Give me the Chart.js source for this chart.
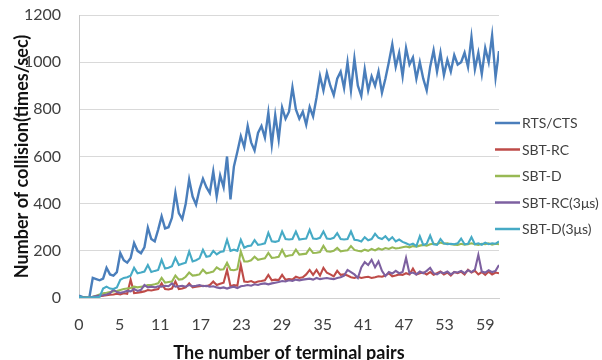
<!DOCTYPE html>
<html>
<head>
<meta charset="utf-8">
<script src="https://cdn.jsdelivr.net/npm/chart.js@4/dist/chart.umd.min.js"></script>
<style>
  html, body { margin: 0; padding: 0; background: #ffffff; }
  #wrap { width: 602px; height: 360px; }
</style>
</head>
<body>
<div id="wrap"><canvas id="chart" width="602" height="360"></canvas></div>
<script>
// Sample spacing: two measurements per terminal-pair step
const sampleStep = 0.5;

const seriesNames = ['RTS/CTS', 'SBT-RC', 'SBT-D', 'SBT-RC(3\u03bcs)', 'SBT-D(3\u03bcs)'];

const rtsCts = [
  10, 5, 3, 2, 85, 80, 75, 82, 128, 100,
  95, 110, 190, 160, 150, 170, 233, 200, 190, 215,
  298, 250, 240, 290, 346, 295, 300, 340, 446, 360,
  335, 400, 502, 430, 396, 460, 506, 470, 445, 537,
  431, 520, 470, 600, 418, 558, 620, 686, 640, 729,
  660, 626, 700, 729, 680, 786, 650, 775, 672, 808,
  760, 790, 893, 800, 760, 790, 735, 810, 770, 850,
  942, 880, 955, 900, 860, 930, 960, 890, 1000, 880,
  1015, 900, 857, 970, 880, 940, 900, 960, 870, 930,
  1000, 1076, 980, 1040, 940, 1060, 990, 1020, 930, 1000,
  930, 880, 980, 1050, 960, 1040, 945, 1010, 960, 1030,
  990, 1000, 1040, 980, 1106, 970, 1040, 950, 1060, 1000,
  1113, 935, 1047
];

const sbtRc = [
  2, 2, 1, 1, 3, 5, 8, 10, 12, 14,
  15, 18, 15, 20, 18, 77, 21, 22, 25, 28,
  34, 32, 35, 38, 62, 38, 36, 40, 70, 38,
  40, 45, 62, 45, 48, 50, 52, 50, 55, 70,
  55, 60, 65, 119, 50, 55, 52, 140, 70, 68,
  72, 65, 70, 72, 75, 98, 75, 78, 76, 98,
  77, 80, 78, 90, 85, 88, 100, 119, 98, 119,
  95, 128, 107, 100, 92, 115, 98, 100, 95, 88,
  85, 90, 85, 88, 90, 85, 88, 92, 90, 95,
  105, 92, 95, 100, 98, 105, 100, 125, 100, 105,
  108, 100, 110, 98, 105, 112, 100, 108, 95, 110,
  105, 112, 100, 120, 108, 115, 100, 110, 98, 112,
  100, 108, 105
];

const sbtD = [
  3, 2, 2, 2, 5, 10, 15, 20, 22, 25,
  28, 30, 34, 38, 40, 42, 48, 45, 48, 50,
  55, 55, 58, 62, 85, 65, 68, 70, 95, 78,
  80, 90, 108, 95, 97, 100, 120, 105, 108, 112,
  130, 120, 122, 149, 120, 118, 122, 197, 155, 155,
  160, 175, 162, 165, 168, 191, 170, 172, 175, 204,
  176, 180, 182, 205, 184, 186, 188, 210, 191, 192,
  195, 221, 198, 196, 200, 212, 198, 200, 202, 220,
  204, 200, 198, 205, 200, 208, 202, 210, 205, 212,
  208, 215, 210, 212, 215, 218, 215, 220, 218, 222,
  225, 222, 228, 230, 228, 235, 230, 232, 228, 226,
  225, 230, 226, 228, 232, 228, 225, 230, 228, 232,
  226, 230, 228
];

const sbtRc3 = [
  3, 2, 1, 1, 5, 8, 10, 12, 15, 20,
  35, 25, 22, 25, 30, 28, 38, 30, 35, 55,
  45, 48, 45, 50, 48, 52, 50, 62, 48, 50,
  52, 48, 55, 50, 52, 55, 50, 52, 48, 50,
  45, 42, 45, 40, 45, 48, 42, 50, 52, 55,
  52, 58, 55, 60, 62, 58, 62, 65, 68, 72,
  70, 75, 72, 78, 75, 78, 80, 82, 78, 85,
  80, 83, 85, 82, 80, 85, 88, 95, 119, 110,
  100, 85, 130, 152, 140, 162, 130, 155, 115, 93,
  110, 104, 115, 105, 110, 170, 104, 108, 100, 112,
  105, 115, 128, 105, 100, 110, 105, 112, 100, 110,
  108, 115, 105, 118, 110, 120, 183, 112, 108, 118,
  110, 115, 140
];

const sbtD3 = [
  5, 3, 2, 2, 3, 3, 5, 40, 48, 40,
  38, 45, 77, 85, 88, 95, 128, 105, 108, 112,
  140, 110, 115, 119, 162, 125, 128, 135, 170, 140,
  145, 150, 197, 155, 160, 168, 204, 175, 178, 200,
  185, 195, 198, 247, 200, 205, 200, 247, 213, 220,
  222, 245, 225, 228, 232, 276, 240, 238, 242, 282,
  250, 248, 250, 282, 248, 250, 252, 289, 252, 250,
  255, 282, 252, 250, 255, 275, 250, 248, 250, 282,
  247, 245, 240, 258, 245, 250, 272, 255, 250, 262,
  245, 258, 240, 248, 238, 232, 225, 230, 220, 262,
  225, 230, 265, 228, 225, 250, 232, 228, 230, 228,
  232, 252, 228, 230, 258, 228, 232, 226, 235, 228,
  232, 230, 240
];

// Category axis labels, shown every 5.9 steps
const tickLabels = [0, 5, 11, 17, 23, 29, 35, 41, 47, 53, 59];
const tickStep = 5.9;

const seriesValues = [rtsCts, sbtRc, sbtD, sbtRc3, sbtD3];
const seriesColors = ['#4A7EBB', '#BE4B48', '#98B954', '#7D60A0', '#46AAC5'];
const seriesWidths = [2.4, 2.1, 2.1, 2.1, 2.1];

Chart.defaults.font.family = 'Lato, "Open Sans", sans-serif';

const datasets = seriesValues.map((vals, s) => ({
  label: seriesNames[s],
  data: vals.map((v, i) => ({ x: i * sampleStep, y: v })),
  borderColor: seriesColors[s],
  backgroundColor: seriesColors[s],
  borderWidth: seriesWidths[s],
  pointRadius: 0,
  tension: 0,
  order: seriesValues.length - s
}));

// Legend drawn as a column to the right of the plot
const sideLegend = {
  id: 'sideLegend',
  afterDraw(chart, args, opts) {
    const ctx = chart.ctx;
    ctx.save();
    ctx.font = '14px Lato, "Open Sans", sans-serif';
    ctx.textBaseline = 'middle';
    ctx.textAlign = 'left';
    chart.data.datasets.forEach((ds, i) => {
      const y = opts.top + i * opts.gap;
      ctx.strokeStyle = ds.borderColor;
      ctx.lineWidth = 2.5;
      ctx.beginPath();
      ctx.moveTo(opts.left, y);
      ctx.lineTo(opts.left + opts.lineLen, y);
      ctx.stroke();
      ctx.fillStyle = '#404040';
      ctx.fillText(ds.label, opts.left + opts.lineLen + 2, y + 0.5);
    });
    ctx.restore();
  }
};

new Chart(document.getElementById('chart'), {
  type: 'line',
  data: { datasets },
  plugins: [sideLegend],
  options: {
    responsive: false,
    animation: false,
    layout: { padding: { top: 15, right: 103, left: 0, bottom: 0 } },
    plugins: {
      legend: { display: false },
      tooltip: { enabled: false },
      sideLegend: { left: 495, top: 123, gap: 26.5, lineLen: 25 }
    },
    scales: {
      x: {
        type: 'linear',
        min: 0,
        max: 61,
        afterBuildTicks(scale) {
          scale.ticks = tickLabels.map((t, i) => ({ value: i * tickStep }));
        },
        afterFit(scale) { scale.height = 62; },
        grid: { display: false, drawTicks: false },
        border: { display: true, color: '#d0d0d0', width: 1 },
        ticks: {
          autoSkip: false,
          maxRotation: 0,
          padding: 17,
          color: '#404040',
          font: { size: 16 },
          callback: (v, i) => String(tickLabels[i])
        },
        title: {
          display: true,
          text: 'The number of terminal pairs',
          color: '#111111',
          font: { size: 18, weight: 'bold' },
          padding: { top: 0, bottom: -4 }
        }
      },
      y: {
        min: 0,
        max: 1200,
        afterFit(scale) {
          scale.width = 79;
          scale.paddingTop = 0;
          scale.paddingBottom = 0;
        },
        grid: { color: '#d9d9d9', drawTicks: false, lineWidth: 1 },
        border: { display: true, color: '#c8c8c8', width: 1 },
        ticks: {
          stepSize: 200,
          padding: 18,
          color: '#404040',
          font: { size: 16 },
          callback: (v) => String(v)
        },
        title: {
          display: true,
          text: 'Number of collision(times/sec)',
          color: '#111111',
          font: { size: 18, weight: 'bold' },
          padding: { top: 11, bottom: 0 }
        }
      }
    }
  }
});
</script>
</body>
</html>
